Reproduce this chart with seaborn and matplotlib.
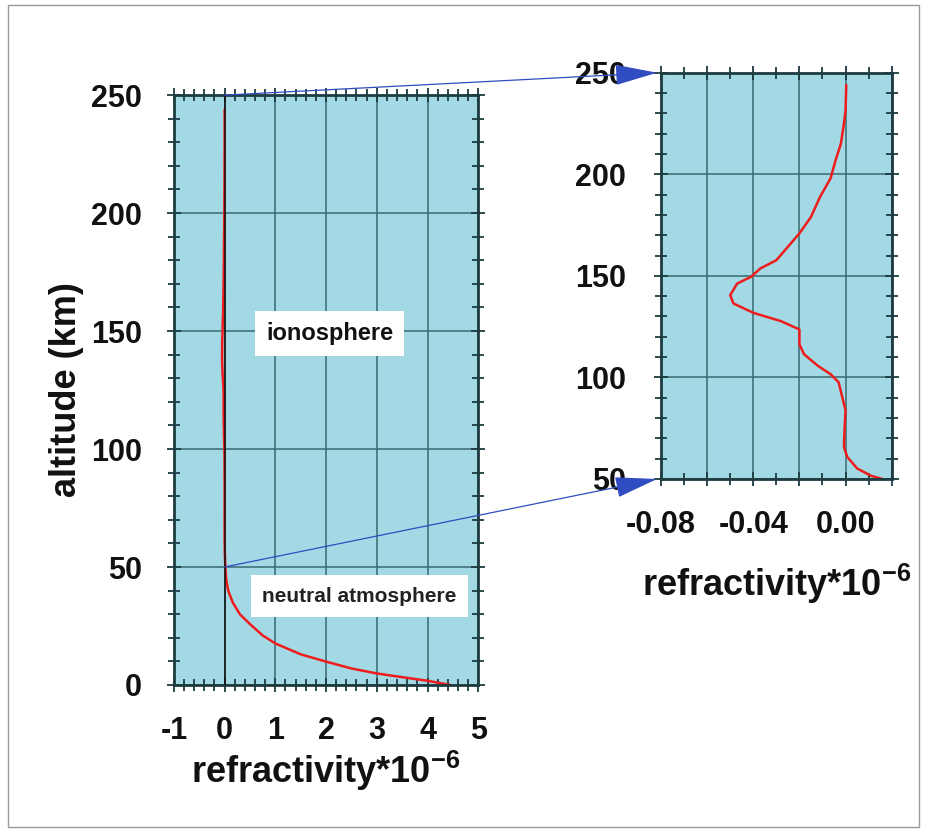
import matplotlib
matplotlib.use("Agg")
import matplotlib.pyplot as plt
import seaborn as sns
import numpy as np
import pandas as pd
from matplotlib.patches import ConnectionPatch, Rectangle
from matplotlib.ticker import MultipleLocator, FuncFormatter

# ---- data ----
neutral_alt = [0, 1, 1.8, 3, 4.9, 7, 9.9, 13, 17.6, 21, 26, 30, 35, 40, 45]
neutral_ref = [4.45, 4.2, 4.0, 3.6, 3.0, 2.5, 2.0, 1.5, 1.0, 0.75, 0.49, 0.3, 0.16, 0.07, 0.03]

iono_alt = [50, 51.6, 55.2, 60.9, 65.8, 75.6, 83.7, 90.2, 97.6, 101.6, 105.7, 111.4,
            116.3, 123.6, 127.7, 131.8, 136.4, 140.5, 146.2, 149.5, 153.6, 157.7,
            164.3, 170.9, 179, 189, 198, 207, 215.2, 225, 231.6, 243.9]
iono_ref = [0.016, 0.011, 0.005, 0.0007, -0.0007, -0.0004, 0.0, -0.0014, -0.003, -0.0065,
            -0.012, -0.018, -0.020, -0.020, -0.028, -0.040, -0.0486, -0.050, -0.047,
            -0.041, -0.037, -0.030, -0.025, -0.020, -0.015, -0.011, -0.0065, -0.0043,
            -0.002, -0.0007, 0.0, 0.0003]

left_xticks = [-1, 0, 1, 2, 3, 4, 5]
left_yticks = [0, 50, 100, 150, 200, 250]
right_yticks = [50, 100, 150, 200, 250]
right_xlabels = [-0.08, -0.04, 0.00]

full = pd.DataFrame({"alt": neutral_alt + iono_alt, "ref": neutral_ref + iono_ref})
iono = pd.DataFrame({"alt": iono_alt, "ref": iono_ref})

# ---- style ----
sns.set_theme(style="white")
plt.rcParams["font.family"] = ["Liberation Sans", "DejaVu Sans"]
plt.rcParams["font.weight"] = "bold"
plt.rcParams["axes.unicode_minus"] = False
plt.rcParams["mathtext.fontset"] = "custom"
plt.rcParams["mathtext.rm"] = "Liberation Sans:bold"
plt.rcParams["mathtext.it"] = "Liberation Sans:bold"
plt.rcParams["mathtext.bf"] = "Liberation Sans:bold"
plt.rcParams["mathtext.default"] = "rm"

BG = "#a2d9e4"
GRID = "#3a6970"
FRAME = "#1d3b40"
RED = "#ee1c1c"
TXT = "#111111"

fig = plt.figure(figsize=(9.25, 8.32), dpi=100)
fig.patch.set_facecolor("white")
fig.add_artist(Rectangle((0.009, 0.006), 0.984, 0.988, transform=fig.transFigure,
                         fill=False, edgecolor="#9a9a9a", linewidth=1.0))

axL = fig.add_axes([0.188, 0.1767, 0.329, 0.709])
axR = fig.add_axes([0.7146, 0.4243, 0.2494, 0.4883])

def style_axes(ax):
    ax.set_facecolor(BG)
    for s in ax.spines.values():
        s.set_color(FRAME)
        s.set_linewidth(2.0)
    ax.grid(True, which="major", color=GRID, linewidth=1.1)
    ax.set_axisbelow(True)
    ax.tick_params(which="both", direction="inout", top=True, right=True,
                   bottom=True, left=True,
                   color=FRAME, width=1.3, labelsize=22, labelcolor=TXT)
    ax.tick_params(which="major", length=10)
    ax.tick_params(which="minor", length=8)

# Left panel
style_axes(axL)
sns.lineplot(data=full, x="ref", y="alt", sort=False, estimator=None, orient="y",
             color=RED, linewidth=1.8, ax=axL)
axL.axvline(0, color="#101010", linewidth=1.1, zorder=3)
axL.set_xlim(-1, 5)
axL.set_ylim(0, 250)
axL.set_xticks(left_xticks)
axL.set_yticks(left_yticks)
axL.xaxis.set_minor_locator(MultipleLocator(0.2))
axL.yaxis.set_minor_locator(MultipleLocator(10))
axL.tick_params(axis="x", which="major", pad=17)
axL.tick_params(axis="y", which="major", pad=18)
axL.set_xlabel("refractivity*10$^{-6}$", fontsize=26, fontweight="bold",
               labelpad=2, color=TXT)
axL.set_ylabel("altitude (km)", fontsize=26, fontweight="bold", labelpad=5, color=TXT)
for lab in axL.get_xticklabels() + axL.get_yticklabels():
    lab.set_fontweight("bold")

axL.text(2.07, 149, "ionosphere", fontsize=17, fontweight="bold", ha="center", va="center",
         color=TXT, bbox=dict(boxstyle="square,pad=0.45", facecolor="white", edgecolor="none"))
axL.text(2.66, 37.7, "neutral atmosphere", fontsize=15, fontweight="bold", ha="center",
         va="center", color="#222222",
         bbox=dict(boxstyle="square,pad=0.55", facecolor="white", edgecolor="none"))

# Right panel
style_axes(axR)
sns.lineplot(data=iono, x="ref", y="alt", sort=False, estimator=None, orient="y",
             color=RED, linewidth=1.8, ax=axR)
axR.set_xlim(-0.08, 0.02)
axR.set_ylim(50, 250)
axR.xaxis.set_major_locator(MultipleLocator(0.02))
axR.xaxis.set_minor_locator(MultipleLocator(0.01))
axR.set_yticks(right_yticks)
axR.yaxis.set_minor_locator(MultipleLocator(10))

def fmt(v, pos):
    for t in right_xlabels:
        if abs(v - t) < 1e-6:
            return f"{t:.2f}"
    return ""

axR.xaxis.set_major_formatter(FuncFormatter(fmt))
axR.tick_params(axis="x", which="major", pad=17)
axR.tick_params(axis="y", which="major", pad=20)
axR.set_xlabel("refractivity*10$^{-6}$", fontsize=26, fontweight="bold",
               labelpad=16, color=TXT)
axR.set_ylabel("")
for lab in axR.get_xticklabels() + axR.get_yticklabels():
    lab.set_fontweight("bold")

# Connector arrows
for yv in (250, 50):
    con = ConnectionPatch(xyA=(0, yv), coordsA=axL.transData,
                          xyB=(-0.0817, yv), coordsB=axR.transData,
                          arrowstyle="-|>,head_length=1.35,head_width=0.33",
                          color="#2f4cc0", linewidth=0.9, mutation_scale=20, zorder=5)
    fig.add_artist(con)

fig.savefig("out.png", dpi=100, facecolor="white")
